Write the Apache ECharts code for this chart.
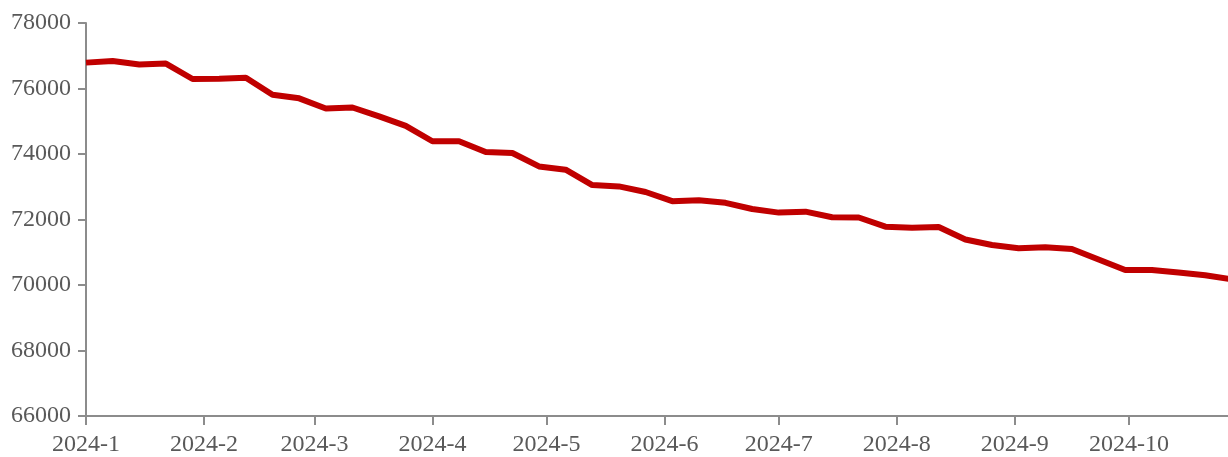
<!DOCTYPE html>
<html>
<head>
<meta charset="utf-8">
<script src="https://cdn.jsdelivr.net/npm/echarts@6/dist/echarts.min.js"></script>
<style>
  html, body { margin: 0; padding: 0; background: #fff; }
  #chart { width: 1228px; height: 457px; }
</style>
</head>
<body>
<div id="chart"></div>
<script>
// weekly dates (Mondays) and values
const dates = [
  '2024-01-01', '2024-01-08', '2024-01-15', '2024-01-22', '2024-01-29',
  '2024-02-05', '2024-02-12', '2024-02-19', '2024-02-26',
  '2024-03-04', '2024-03-11', '2024-03-18', '2024-03-25',
  '2024-04-01', '2024-04-08', '2024-04-15', '2024-04-22', '2024-04-29',
  '2024-05-06', '2024-05-13', '2024-05-20', '2024-05-27',
  '2024-06-03', '2024-06-10', '2024-06-17', '2024-06-24',
  '2024-07-01', '2024-07-08', '2024-07-15', '2024-07-22', '2024-07-29',
  '2024-08-05', '2024-08-12', '2024-08-19', '2024-08-26',
  '2024-09-02', '2024-09-09', '2024-09-16', '2024-09-23', '2024-09-30',
  '2024-10-07', '2024-10-14', '2024-10-21', '2024-10-28'
];
const values = [
  76790, 76840, 76730, 76760, 76290,
  76300, 76330, 75810, 75700,
  75390, 75420, 75150, 74860,
  74390, 74390, 74060, 74030, 73620,
  73520, 73050, 73010, 72840,
  72560, 72590, 72510, 72320,
  72210, 72240, 72070, 72060, 71780,
  71750, 71770, 71390, 71220,
  71120, 71150, 71100, 70780, 70460,
  70460, 70380, 70300, 70170
];
// month starts used as x tick labels
const monthTicks = [
  '2024-01-01', '2024-02-01', '2024-03-01', '2024-04-01', '2024-05-01',
  '2024-06-01', '2024-07-01', '2024-08-01', '2024-09-01', '2024-10-01'
];
const xMin = '2024-01-01';
const xMax = '2024-10-27';

const DAY = 86400000;
// day number counted from xMin
const toDay = (s) => {
  const p = s.split('-').map(Number);
  return Math.round((Date.UTC(p[0], p[1] - 1, p[2]) - Date.UTC(2024, 0, 1)) / DAY);
};

const chart = echarts.init(document.getElementById('chart'));

const textStyle = {
  color: '#595959',
  fontFamily: '"Liberation Serif", "Times New Roman", serif',
  fontSize: 24
};

const tickDays = monthTicks.map(toDay);

const option = {
  animation: false,
  grid: { left: 86, right: 0, top: 23, bottom: 40, containLabel: false },
  xAxis: {
    type: 'value',
    min: toDay(xMin),
    max: toDay(xMax),
    axisLine: { show: true, lineStyle: { color: '#8c8c8c', width: 2 } },
    axisTick: {
      show: true,
      length: 9,
      customValues: tickDays,
      lineStyle: { color: '#8c8c8c', width: 2 }
    },
    axisLabel: {
      ...textStyle,
      margin: 17,
      customValues: tickDays,
      formatter: (v) => {
        const d = new Date(Date.UTC(2024, 0, 1) + v * DAY);
        return d.getUTCFullYear() + '-' + (d.getUTCMonth() + 1);
      }
    },
    splitLine: { show: false }
  },
  yAxis: {
    type: 'value',
    min: 66000,
    max: 78000,
    interval: 2000,
    axisLine: { show: true, lineStyle: { color: '#8c8c8c', width: 2 } },
    axisTick: { show: true, length: 8, lineStyle: { color: '#8c8c8c', width: 2 } },
    axisLabel: { ...textStyle, margin: 15, formatter: (v) => String(v) },
    splitLine: { show: false }
  },
  series: [
    {
      type: 'line',
      data: dates.map((d, i) => [toDay(d), values[i]]),
      showSymbol: false,
      clip: true,
      lineStyle: { color: '#c00000', width: 6 },
      itemStyle: { color: '#c00000' }
    }
  ]
};

chart.setOption(option);
</script>
</body>
</html>
